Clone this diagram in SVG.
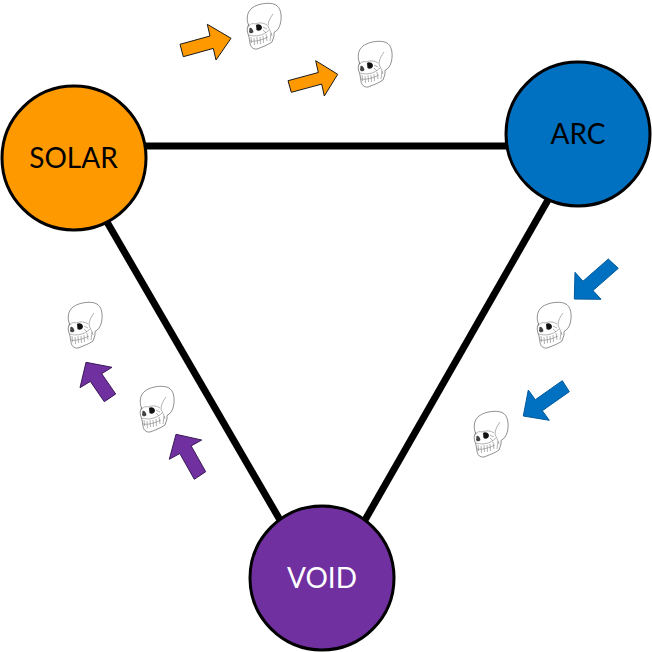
<svg xmlns="http://www.w3.org/2000/svg" xmlns:xlink="http://www.w3.org/1999/xlink" width="652" height="652" viewBox="0 0 652 652">
<style>
.link{stroke:#000;stroke-width:7;fill:none}
.node{stroke:#000;stroke-width:3}
.lbl{font-family:"Lato","Open Sans",sans-serif;font-size:28px;text-anchor:middle}
.arrow{stroke-width:1;stroke-linejoin:miter}
.sk{fill:#fff;stroke:#444;stroke-width:.6;stroke-linejoin:round;stroke-linecap:round}
.skd{fill:none;stroke:#666;stroke-width:.5}
</style>
<defs>
<g id="skull">
<path class="sk" d="M2.500,22C0,16 1,9 6,5C12,0.500 23,-1 29,1.500C35,4 36,13 34.500,20C33.500,25 31,28 28,29.500L28,33L26,39C22,42 16,44 11,46C7,46.500 4.500,44 4,40L3,34L1.500,29C0.800,26 1.500,24 2.500,22Z"/>
<path class="skd" d="M27,11C24,15 22,19 22,23C23,26 25,29 26,33M21,22C18,20 14,19 9,21M3,32C9,34 17,33 23,27M4,38C9,39 16,37 22,34M5,34L5.500,40M8,35L8.500,42M11,34L11.500,41M14,34L14.500,41M17,33L17.500,40M20,31L21,38M25,30L24,38M2,24C4,21 6,20 9,21"/>
<path d="M10,22C12,20.500 15.500,21.500 16,24.500C15.500,28 12,28.500 10.500,27Z" fill="#111"/>
<path d="M3.500,25C5,24 7,26 7.500,29C6,31 4,30.500 3,29Z" fill="#444"/>
<path d="M17,24L21,26M17,27L20,30" class="skd"/>
</g>
</defs>
<g id="connectors">
<line class="link" x1="146" y1="146" x2="506" y2="146"/>
<line class="link" x1="107" y1="222" x2="280" y2="520"/>
<line class="link" x1="548" y1="200" x2="365" y2="520"/>
</g>
<g id="solar"><circle class="node" cx="74" cy="158" r="72" fill="#ff9900"/><text class="lbl" x="73.500" y="167.500" fill="#000">SOLAR</text></g>
<g id="arc"><circle class="node" cx="578" cy="134" r="72" fill="#0070c0"/><text class="lbl" x="578" y="143.500" fill="#000">ARC</text></g>
<g id="void"><circle class="node" cx="322" cy="578" r="72" fill="#7030a0"/><text class="lbl" x="322" y="587.500" fill="#fff">VOID</text></g>
<g id="orange-arrows" fill="#ff9900" stroke="#1a1a1a">
<polygon class="arrow" points="180,44.300 210,36 207.300,24.300 231,38.300 216,60 213.300,48.400 183.300,56.700"/>
<polygon class="arrow" points="288,80.700 318.300,72.500 315.700,60.700 337.700,74.300 324.300,96 321.700,84.100 291.300,92.300"/>
</g>
<g id="blue-arrows" fill="#0070c0" stroke="#005a9c">
<polygon class="arrow" points="608.300,259 583,281.200 575,272.300 574.300,299 601,299.300 593,290.500 618.300,268.300"/>
<polygon class="arrow" points="562.300,380.700 535.300,399.700 528.300,390 523.300,416 549.300,420.300 542.300,410.700 569.300,391.700"/>
</g>
<g id="purple-arrows" fill="#7030a0" stroke="#3a1a55">
<polygon class="arrow" points="115.700,394 101.700,373.700 112,367.300 86,362.300 80,387.700 90.300,381.400 104.300,401.700"/>
<polygon class="arrow" points="205.700,471.700 191.200,445.900 201.700,440 176,434.300 169.300,459.300 179.800,453.500 194.300,479.300"/>
</g>
<g id="skulls">
<use href="#skull" xlink:href="#skull" x="246" y="3"/>
<use href="#skull" xlink:href="#skull" x="357" y="41"/>
<use href="#skull" xlink:href="#skull" x="536" y="302"/>
<use href="#skull" xlink:href="#skull" x="473" y="411"/>
<use href="#skull" xlink:href="#skull" x="67" y="302"/>
<use href="#skull" xlink:href="#skull" x="139" y="386"/>
</g>
</svg>
